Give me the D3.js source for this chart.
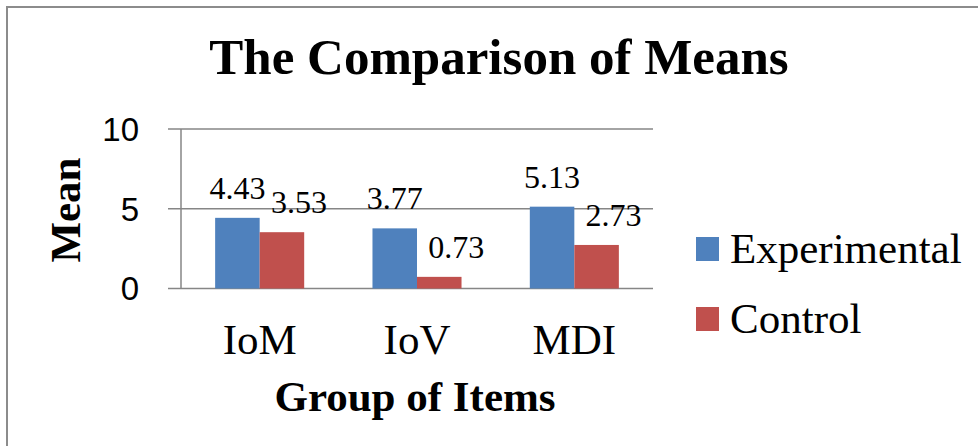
<!DOCTYPE html>
<html>
<head>
<meta charset="utf-8">
<script src="https://cdn.jsdelivr.net/npm/d3@7"></script>
<style>
  html, body { margin: 0; padding: 0; background: #fff; }
  svg { display: block; }
</style>
</head>
<body>
<svg id="chart" width="978" height="446"></svg>
<script>
// Data
const categories = ["IoM", "IoV", "MDI"];
const seriesNames = ["Experimental", "Control"];
const experimental = [4.43, 3.77, 5.13];
const control = [3.53, 0.73, 2.73];
const yTicks = [0, 5, 10];

const seriesValues = [experimental, control];
const colors = ["#4F81BD", "#C0504D"];

const svg = d3.select("#chart");
const serif = "'Liberation Serif', 'Times New Roman', serif";
const sans = "'Liberation Sans', Arial, sans-serif";

// Outer chart border (left and top edges visible)
svg.append("path")
  .attr("d", "M7,446 V7 H978")
  .attr("fill", "none")
  .attr("stroke", "#8c8c8c")
  .attr("stroke-width", 2);

const plot = { left: 181, right: 653, top: 129, bottom: 288.5 };

const x0 = d3.scaleBand()
  .domain(categories)
  .range([plot.left, plot.right])
  .paddingInner(0.434)
  .paddingOuter(0.217);

const x1 = d3.scaleBand()
  .domain(seriesNames)
  .range([0, x0.bandwidth()]);

const y = d3.scaleLinear().domain([0, 10]).range([plot.bottom, plot.top]);

// Gridlines
svg.append("g").selectAll("line")
  .data(yTicks)
  .join("line")
  .attr("x1", plot.left - 13)
  .attr("x2", plot.right)
  .attr("y1", d => y(d))
  .attr("y2", d => y(d))
  .attr("stroke", "#868686")
  .attr("stroke-width", 1.5);

// Y axis line
svg.append("line")
  .attr("x1", plot.left).attr("x2", plot.left)
  .attr("y1", y(10)).attr("y2", y(0))
  .attr("stroke", "#868686")
  .attr("stroke-width", 1.5);

// Y tick labels
svg.append("g").selectAll("text")
  .data(yTicks)
  .join("text")
  .attr("x", 139)
  .attr("y", d => y(d))
  .attr("dy", "0.36em")
  .attr("text-anchor", "end")
  .attr("font-family", sans)
  .attr("font-size", 33)
  .text(d => d);

// Bars
const groups = svg.append("g").selectAll("g")
  .data(categories)
  .join("g")
  .attr("transform", c => `translate(${x0(c)},0)`);

groups.selectAll("rect")
  .data((c, i) => seriesNames.map((s, k) => ({ s, k, v: seriesValues[k][i] })))
  .join("rect")
  .attr("x", d => x1(d.s))
  .attr("width", x1.bandwidth())
  .attr("y", d => y(d.v))
  .attr("height", d => y(0) - y(d.v))
  .attr("fill", d => colors[d.k]);

// Value labels
groups.selectAll("text")
  .data((c, i) => seriesNames.map((s, k) => ({ s, k, v: seriesValues[k][i] })))
  .join("text")
  .attr("x", d => x1(d.s) + x1.bandwidth() / 2 + (d.k === 1 ? 17 : 0))
  .attr("y", d => y(d.v) - 19)
  .attr("text-anchor", "middle")
  .attr("font-family", serif)
  .attr("font-size", 32)
  .text(d => d.v.toFixed(2));

// Category labels
svg.append("g").selectAll("text")
  .data(categories)
  .join("text")
  .attr("x", c => x0(c) + x0.bandwidth() / 2)
  .attr("y", 354)
  .attr("text-anchor", "middle")
  .attr("font-family", serif)
  .attr("font-size", 43)
  .text(c => c);

// Title
svg.append("text")
  .attr("x", 499)
  .attr("y", 74)
  .attr("text-anchor", "middle")
  .attr("font-family", serif)
  .attr("font-weight", "bold")
  .attr("font-size", 51)
  .text("The Comparison of Means");

// Axis titles
svg.append("text")
  .attr("x", 415)
  .attr("y", 411)
  .attr("text-anchor", "middle")
  .attr("font-family", serif)
  .attr("font-weight", "bold")
  .attr("font-size", 43)
  .text("Group of Items");

svg.append("text")
  .attr("transform", "translate(80,210) rotate(-90)")
  .attr("text-anchor", "middle")
  .attr("font-family", serif)
  .attr("font-weight", "bold")
  .attr("font-size", 43)
  .text("Mean");

// Legend
const legend = svg.append("g").selectAll("g")
  .data(seriesNames)
  .join("g")
  .attr("transform", (d, i) => `translate(696,${237 + i * 70})`);

legend.append("rect")
  .attr("width", 23)
  .attr("height", 24)
  .attr("fill", (d, i) => colors[i]);

legend.append("text")
  .attr("x", 34)
  .attr("y", 26)
  .attr("font-family", serif)
  .attr("font-size", 43)
  .text(d => d);
</script>
</body>
</html>
